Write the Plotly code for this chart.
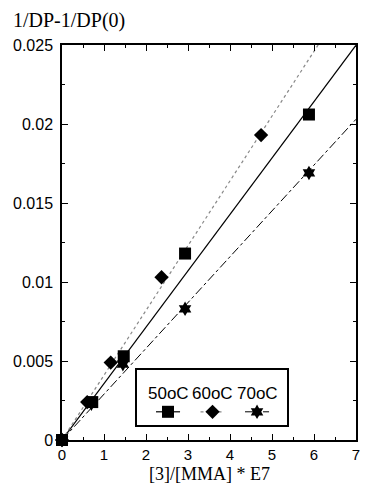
import plotly.graph_objects as go

# ---- data ----
series_names = ["50oC", "60oC", "70oC"]
x_50 = [0, 0.72, 1.47, 2.93, 5.88]
y_50 = [0, 0.0024, 0.0053, 0.0118, 0.0206]
x_60 = [0, 0.6, 1.16, 2.37, 4.74]
y_60 = [0, 0.0024, 0.0049, 0.0103, 0.0193]
x_70 = [0, 0.7, 1.45, 2.93, 5.88]
y_70 = [0, 0.0023, 0.0048, 0.0083, 0.0169]
fit_slopes = [0.00357, 0.0041, 0.0029]   # lines through the origin
fit_x = [0, 7]
x_ticks = [0, 1, 2, 3, 4, 5, 6, 7]
y_ticks = [0, 0.005, 0.01, 0.015, 0.02, 0.025]
y_ticktext = ["0", "0.005", "0.01", "0.015", "0.02", "0.025"]

symbols = ["square", "diamond", "hexagram"]
msizes = [12, 11, 11]
dashes = ["solid", "dot", "dashdot"]
lcolors = ["black", "#888888", "black"]
lwidths = [1.2, 1.2, 1.0]

fig = go.Figure()
xs = [x_50, x_60, x_70]
ys = [y_50, y_60, y_70]
for i in range(3):
    fig.add_trace(go.Scatter(
        x=fit_x, y=[fit_slopes[i] * v for v in fit_x], mode="lines",
        line=dict(color=lcolors[i], dash=dashes[i], width=lwidths[i]),
        showlegend=False, hoverinfo="skip"))
for i in range(3):
    fig.add_trace(go.Scatter(
        x=xs[i], y=ys[i], mode="markers", name=series_names[i],
        marker=dict(symbol=symbols[i], size=msizes[i], color="black",
                    line=dict(width=0)),
        showlegend=False, cliponaxis=False))

# ---- legend box drawn on an auxiliary axis ----
for i in range(3):
    fig.add_trace(go.Scatter(
        x=[i + 0.23, i + 0.77], y=[0.24, 0.24],
        mode="lines", xaxis="x2", yaxis="y2",
        line=dict(color=lcolors[i], dash=dashes[i], width=lwidths[i]),
        showlegend=False, hoverinfo="skip"))
    fig.add_trace(go.Scatter(
        x=[i + 0.5], y=[0.24], mode="markers", xaxis="x2", yaxis="y2",
        marker=dict(symbol=symbols[i], size=msizes[i], color="black",
                    line=dict(width=0)),
        showlegend=False, hoverinfo="skip"))
    fig.add_annotation(x=i + 0.5, y=0.57, xref="x2", yref="y2",
                       text=series_names[i], showarrow=False,
                       font=dict(family="Liberation Sans", size=17, color="black"))

# the page body has an 8px margin; the visible figure area is 8..361 x 8..483
OFF = 8
W, H = 353, 475
pl, pr, pt, pb = 62, 356, 45, 440          # plot area in window pixels
ml, mt = pl - OFF, pt - OFF
mr, mb = W - (pr - OFF), H - (pb - OFF)
pw, ph = pr - pl, pb - pt
bx0, bx1, by0, by1 = 137, 287, 370, 425    # legend box in window pixels

axis_common = dict(showgrid=False, zeroline=False, showline=True, linecolor="black",
                   linewidth=1.5, mirror="ticks", ticks="inside", ticklen=6,
                   tickcolor="black", tickwidth=1, automargin=False)

fig.update_layout(
    width=W, height=H, margin=dict(l=ml, r=mr, t=mt, b=mb),
    paper_bgcolor="white", plot_bgcolor="white", showlegend=False,
    xaxis=dict(range=[0, 7], tickvals=x_ticks, ticklabelstandoff=0,
               tickfont=dict(family="Liberation Sans", size=15, color="black"),
               minor=dict(dtick=0.5, ticks="inside", ticklen=3, tickcolor="black"),
               **axis_common),
    yaxis=dict(range=[0, 0.025], tickvals=y_ticks, ticktext=y_ticktext,
               ticklabelstandoff=4,
               tickfont=dict(family="Liberation Sans", size=16, color="black"),
               minor=dict(dtick=0.0025, ticks="inside", ticklen=3, tickcolor="black"),
               **axis_common),
    xaxis2=dict(domain=[(bx0 - pl) / pw, (bx1 - pl) / pw], anchor="y2",
                range=[-0.197, 3.173],
                showgrid=False, zeroline=False, showticklabels=False, ticks="",
                showline=True, mirror=True, linecolor="black", linewidth=1.5),
    yaxis2=dict(domain=[(pb - by1) / ph, (pb - by0) / ph], anchor="x2", range=[0, 1],
                showgrid=False, zeroline=False, showticklabels=False, ticks="",
                showline=True, mirror=True, linecolor="black", linewidth=1.5),
)

fig.add_annotation(x=0, y=1, xref="paper", yref="paper", xanchor="left", yanchor="middle",
                   xshift=-ml + 3, yshift=(pt - 20),
                   text="1/DP-1/DP(0)", showarrow=False,
                   font=dict(family="Liberation Serif", size=20, color="black"))
fig.add_annotation(x=0.5, y=0, xref="paper", yref="paper", xanchor="center", yanchor="middle",
                   yshift=-(474 - pb), text="[3]/[MMA] * E7", showarrow=False,
                   font=dict(family="Liberation Serif", size=18, color="black"))

fig.write_html("out.html")
